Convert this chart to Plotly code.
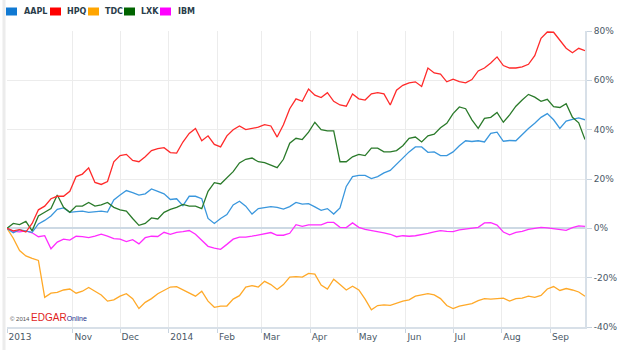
import pandas as pd
import plotly.graph_objects as go

# Sampling dates (every 4 calendar days, 20 Sep 2013 -> 23 Sep 2014)
dates = pd.date_range("2013-09-20", periods=93, freq="4D")

tickers = ["AAPL", "HPQ", "TDC", "LXK", "IBM"]

# % change since start
AAPL = [0, -1.8, -0.5, -1.2, -1.6, 1.8, 3.2, 5, 7.7, 8.3, 6.5, 6.8, 7, 6.5, 6.8, 7, 6.6,
        11.5, 13.5, 15.3, 14.5, 13.5, 14, 16, 15, 14, 11.7, 12, 9.2, 13, 13, 12, 4, 2, 4,
        5.6, 9.5, 11, 9, 5.8, 8, 8.5, 8.8, 8.5, 7.8, 8.8, 10.5, 9.8, 10, 8.7, 7.3, 8, 5.8,
        8.3, 17, 21, 21.5, 21.5, 20.2, 21, 22.5, 23.5, 26, 28.5, 31, 33, 33, 30.8, 31, 29.5,
        29.5, 31, 33.5, 35.5, 35.2, 35.5, 35, 38.5, 39, 35.3, 35.6, 35.5, 38.2, 40.5, 42.6,
        45, 46.5, 44, 40.5, 43.5, 44.2, 44.8, 44]

HPQ = [0, -1, -0.5, -1.5, 2, 7.5, 9, 12, 13, 13, 15, 21, 22, 24.5, 18.6, 17.8, 19, 27,
       29.5, 30, 27.5, 27, 29, 31.5, 32.3, 32.7, 30.7, 30.5, 35, 38.5, 40.5, 35.5, 37.5, 34,
       33, 37.5, 40, 41.5, 40, 40.5, 41, 42, 41.5, 37, 42, 48.5, 52.5, 51.5, 56.5, 54, 53,
       55, 51.5, 50, 49.5, 54.5, 52.5, 52, 54.5, 55, 54.5, 50, 56, 58, 59, 59.4, 57.5, 65,
       63, 62.5, 59.4, 60.5, 59.5, 59, 60.3, 63.8, 65, 67, 69.5, 66, 65, 65, 65.5, 66.5, 70,
       77, 79.6, 79.5, 76, 73, 71.2, 73, 72]

TDC = [0, -4, -9, -11.2, -12.2, -13, -28, -26.3, -26, -25, -24.6, -26.3, -25.5, -24, -25.5,
       -27, -29.5, -29, -27.5, -26.5, -28.5, -32.5, -30, -28.5, -26.5, -25, -23.8, -23.6, -25,
       -26.3, -27.5, -25.5, -29.5, -32, -31.5, -31.5, -28.7, -27.3, -23.8, -23.2, -23.8, -21.5,
       -22.8, -24.8, -22.8, -19.8, -19.6, -19.8, -18.3, -18.6, -23, -24.6, -20.6, -22.8, -25,
       -23.5, -25, -28.7, -33, -31.3, -31, -31.2, -30.3, -29.5, -29, -27.5, -27, -26.5, -27,
       -28.5, -31.3, -32.5, -31.5, -31, -30.5, -29.3, -28.5, -28.7, -28.5, -28.3, -29.5, -28.5,
       -28.3, -27.5, -28, -27.2, -24.6, -23.6, -25.2, -24.4, -25, -25.8, -27.5]

LXK = [0, 2, 1.5, 2.8, -1, 5, 6.5, 8, 13.5, 8.5, 6.5, 9, 9, 10.5, 9, 9.5, 10.5, 8.5, 7.5,
       7, 4, 1.2, 2, 4.2, 3.8, 6.5, 7.7, 8.5, 9.7, 9, 9, 8, 15, 18.5, 18, 20.6, 23, 26.5,
       28, 28.5, 27, 26.6, 25.5, 24.6, 28, 34.5, 36.5, 36, 39, 43, 40, 39.5, 39.5, 27, 27,
       29, 30, 29.5, 32.5, 32.5, 31, 31, 31.5, 33.5, 36.5, 37, 35, 37.5, 38.2, 40.8, 42.6,
       46.5, 49.2, 48.5, 44, 40.5, 44.6, 45, 47, 43, 46, 49.5, 52, 54.3, 53.2, 51.5, 52.3,
       49.3, 49, 50.5, 45, 42.8, 36]

IBM = [0, -1.2, -1.4, -1, -1.8, -3.4, -3, -8.3, -5.6, -4.4, -4.8, -3.2, -3.4, -3.8, -3.2,
       -2.4, -3.2, -4.2, -4.4, -5.4, -4.6, -6.3, -3.8, -3.2, -3.3, -1.6, -2.4, -1.6, -1.3,
       -0.9, -2.4, -4.8, -7.3, -8, -8.5, -6.5, -4.4, -3.6, -3.6, -3.2, -2.6, -2.1, -1.7,
       -2.8, -2.8, -2, 1.5, 0.8, 1.4, 1.4, 1.4, 2.4, 2.4, 0.4, 0.3, 2.2, 0.4, -0.4, -0.8,
       -1.2, -1.8, -2.4, -3.4, -3, -3.2, -3, -2.6, -2, -1.4, -0.9, -1.2, -1.3, -0.6, -0.2,
       0, 0.4, 2.2, 2.3, 1.3, -1.5, -2.6, -1.6, -1.2, -0.4, 0, 0.4, 0.2, -0.2, -0.4, -0.8,
       0.3, 1, 0.8]

series = {"AAPL": AAPL, "HPQ": HPQ, "TDC": TDC, "LXK": LXK, "IBM": IBM}
line_colors = {"AAPL": "#3a97dd", "HPQ": "#ff2a2a", "TDC": "#ffa928",
               "LXK": "#2a7a2a", "IBM": "#ff2cff"}
swatch_colors = {"AAPL": "#1079d2", "HPQ": "#ff0000", "TDC": "#ffa500",
                 "LXK": "#006400", "IBM": "#ff00ff"}

x_tick_dates = ["2013-09-20", "2013-11-01", "2013-12-01", "2014-01-01", "2014-02-01",
                "2014-03-01", "2014-04-01", "2014-05-01", "2014-06-01", "2014-07-01",
                "2014-08-01", "2014-09-01"]
x_tick_text = ["2013", "Nov", "Dec", "2014", "Feb", "Mar", "Apr", "May", "Jun", "Jul",
               "Aug", "Sep"]
y_tick_vals = [-40, -20, 0, 20, 40, 60, 80]
y_tick_text = ["-40%", "-20%", "0%", "20%", "40%", "60%", "80%"]

W, H = 628, 350
ML, MR, MT, MB = 7, 43, 31, 23
PW, PH = W - ML - MR, H - MT - MB


def px_x(x):
    return (x - ML) / PW


def px_y(y):
    return (H - MB - y) / PH


fig = go.Figure()
for name in ["TDC", "IBM", "AAPL", "LXK", "HPQ"]:
    fig.add_trace(go.Scatter(x=dates, y=series[name], mode="lines", name=name,
                             line=dict(color=line_colors[name], width=1.3),
                             showlegend=False, hoverinfo="skip"))

shapes = []
annotations = []
# Legend
sw_x = [6, 50, 88, 124, 160]
tx_x = [22, 65, 103, 139, 176]
for name, sx, tx in zip(tickers, sw_x, tx_x):
    shapes.append(dict(type="rect", xref="paper", yref="paper",
                       x0=px_x(sx), x1=px_x(sx + 11), y0=px_y(15.5), y1=px_y(7.5),
                       fillcolor=swatch_colors[name], line=dict(width=0)))
    annotations.append(dict(xref="paper", yref="paper", x=px_x(tx), y=px_y(12),
                            xanchor="left", yanchor="middle", showarrow=False,
                            text="<b>%s</b>" % name,
                            font=dict(family="DejaVu Sans", size=8, color="#2a3d4a")))
# left frame strip
shapes.append(dict(type="line", xref="paper", yref="paper", x0=px_x(4), x1=px_x(4),
                   y0=px_y(0), y1=px_y(350), line=dict(color="#ececec", width=3)))

annotations.append(dict(xref="paper", yref="paper", x=px_x(8), y=px_y(317),
                        xanchor="left", yanchor="middle", showarrow=False,
                        text="<span style='font-size:6px;color:#555'>© 2014 </span>"
                             "<span style='font-size:10px;color:#e0231c'>EDGAR</span>"
                             "<span style='font-size:7px;color:#1c2f8c'>Online</span>",
                        font=dict(family="Arial")))

fig.update_layout(
    width=W, height=H,
    margin=dict(l=ML, r=MR, t=MT, b=MB, pad=0),
    paper_bgcolor="white", plot_bgcolor="white",
    shapes=shapes, annotations=annotations,
    xaxis=dict(type="date", range=["2013-09-20", "2014-09-23"],
               tickvals=x_tick_dates, ticktext=x_tick_text,
               ticklabelposition="outside right",
               showgrid=True, gridcolor="#ececec", gridwidth=1,
               showline=True, linecolor="#d8e0e8", linewidth=2,
               ticks="outside", ticklen=4, tickcolor="#c8d4e0",
               tickfont=dict(family="DejaVu Sans", size=9, color="#4a5866"),
               zeroline=False),
    yaxis=dict(side="right", range=[-40, 80], tickvals=y_tick_vals, ticktext=y_tick_text,
               showgrid=True, gridcolor="#ececec", gridwidth=1,
               showline=True, linecolor="#d8e0e8", linewidth=2,
               ticks="outside", ticklen=5, tickcolor="#c8d4e0",
               tickfont=dict(family="DejaVu Sans", size=9, color="#4a5866"),
               zeroline=True, zerolinecolor="#cdd9e4", zerolinewidth=2),
    font=dict(family="DejaVu Sans"),
)

fig.write_html("out.html")
